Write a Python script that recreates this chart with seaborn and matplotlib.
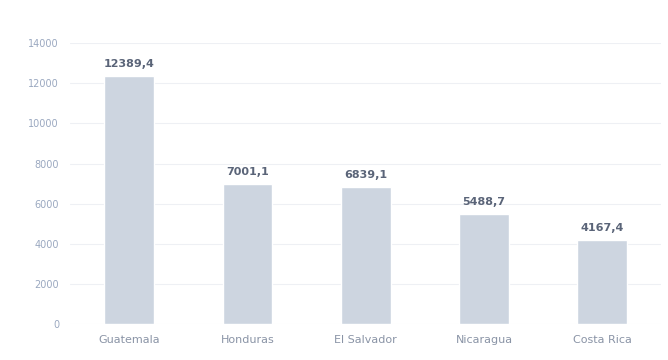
import matplotlib
matplotlib.use("Agg")
import matplotlib.pyplot as plt
import seaborn as sns
import pandas as pd

countries = ["Guatemala", "Honduras", "El Salvador", "Nicaragua", "Costa Rica"]
values = [12389.4, 7001.1, 6839.1, 5488.7, 4167.4]
yticks = [0, 2000, 4000, 6000, 8000, 10000, 12000, 14000]

df = pd.DataFrame({"country": countries, "value": values})

sns.set_theme(style="white")
plt.rcParams["font.family"] = ["DejaVu Sans"]

fig, ax = plt.subplots(figsize=(6.68, 3.6), dpi=100)
fig.subplots_adjust(left=0.105, right=0.99, top=0.88, bottom=0.1)

sns.barplot(data=df, x="country", y="value", color="#cdd5e0", width=0.42,
            saturation=1, ax=ax)

ax.set_ylim(0, 14000)
ax.set_yticks(yticks)
ax.set_yticklabels([str(t) for t in yticks], fontsize=7, color="#9aa8c0")
ax.yaxis.grid(True, color="#eef0f4", linewidth=0.8)
ax.set_axisbelow(True)
ax.tick_params(axis="x", labelsize=8, colors="#8a94a6", length=0, pad=8)
ax.tick_params(axis="y", length=0, pad=8)
ax.set_xlabel("")
ax.set_ylabel("")
for s in ax.spines.values():
    s.set_visible(False)

for p, v in zip(ax.patches, values):
    ax.annotate(f"{v:.1f}".replace(".", ","),
                (p.get_x() + p.get_width() / 2, p.get_height()),
                xytext=(0, 5), textcoords="offset points",
                ha="center", va="bottom", fontsize=8, fontweight="bold",
                color="#5a6478")

fig.savefig("out.png", dpi=100)
